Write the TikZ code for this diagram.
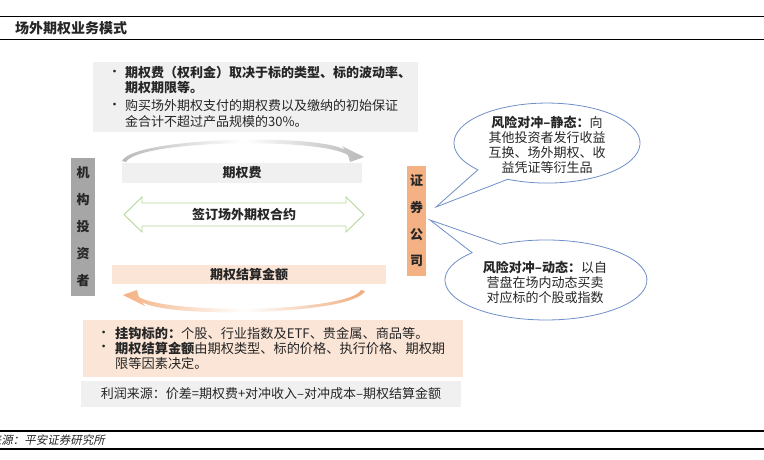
\documentclass[tikz,border=0pt]{standalone}
\usepackage{fontspec}
\setmainfont{Noto Sans CJK SC}
\newfontfamily\cjkit[FakeSlant=0.2]{Noto Sans CJK SC}
\definecolor{gbox}{HTML}{F0F0F0}
\definecolor{lgray}{HTML}{A6A6A6}
\definecolor{peach}{HTML}{FBE5D6}
\definecolor{orng}{HTML}{F4B183}
\definecolor{grn}{HTML}{B4D89A}
\definecolor{blu}{HTML}{6F8FC9}
\definecolor{ink}{HTML}{262626}
\begin{document}
\begin{tikzpicture}[x=1pt,y=-1pt,
  every node/.style={inner sep=0pt, text=ink},
  body/.style={font=\fontsize{13}{15}\selectfont},
  lline/.style={body, anchor=west},
  pline/.style={anchor=west, font=\fontsize{13.2}{14}\selectfont},
  boxnode/.style={body, minimum width=#1, anchor=center},
  vbox/.style={font=\bfseries\fontsize{13}{27}\selectfont, align=center},
  callout/.style={draw=blu, fill=white, line width=0.8pt},
  rule/.style={draw=black, line width=1.2pt}
]
\useasboundingbox (0,0) rectangle (764,459);
\clip (0,0) rectangle (764,459);

% header / footer rules
\draw[rule] (0,16.5) -- (764,16.5);
\draw[rule, line width=1.5pt] (0,39.5) -- (764,39.5);
\node[anchor=west, font=\bfseries\fontsize{14}{16}\selectfont] (title) at (15,28) {场外期权业务模式};
\draw[rule, line width=1.5pt] (0,431) -- (764,431);
\draw[rule] (0,449) -- (764,449);
\node[anchor=east, font=\cjkit\fontsize{11.5}{13}\selectfont] (src) at (105,440.5) {资料来源：平安证券研究所};

% top grey info box
\fill[gbox] (93,62) rectangle (418,132);
\node[lline] (b1) at (108,73) {•};
\node[lline] (t1) at (125,73) {\textbf{期权费（权利金）取决于标的类型、标的波动率、}};
\node[lline] (t2) at (125,88) {\textbf{期权期限等。}};
\node[lline] (b2) at (108,106) {•};
\node[lline] (t3) at (125,106) {购买场外期权支付的期权费以及缴纳的初始保证};
\node[lline] (t4) at (125,122) {金合计不超过产品规模的30\%。};

% grey curved arrow (top)
\shade[left color=gray!55, right color=gray!55, middle color=white]
  (122,161) .. controls (134,137) and (318,133) .. (345,150)
  -- (342,146) -- (364,157) -- (350,162) -- (348,155)
  .. controls (318,137) and (138,140) .. (126,162) -- cycle;

% left / right vertical boxes
\node[vbox, fill=lgray, minimum width=24pt, minimum height=138pt] (inv) at (83,227) {机\\构\\投\\资\\者};
\node[vbox, fill=orng, minimum width=19.5pt, minimum height=110pt, font=\bfseries\fontsize{13}{26.7}\selectfont] (sec) at (416.7,221) {证\\券\\公\\司};

% premium box
\node[boxnode=240pt, fill=gbox, minimum height=20pt] (fee) at (242,173) {\textbf{期权费}};

% double arrow
\draw[grn, line width=0.9pt, fill=white]
  (124,214.5) -- (142,197) -- (142,203) -- (346,203) -- (346,197) -- (364,214.5)
  -- (346,232) -- (346,226) -- (142,226) -- (142,232) -- cycle;
\node[body] (sign) at (244,215) {\textbf{签订场外期权合约}};

% settlement box
\node[boxnode=274pt, fill=peach, minimum height=19pt] (settle) at (249,274.5) {\textbf{期权结算金额}};

% orange curved arrow (bottom)
\shade[left color=orng, right color=orng!90!brown, middle color=white]
  (365,291) .. controls (353,315) and (169,319) .. (142,302)
  -- (145,306) -- (123,295) -- (137,290) -- (139,297)
  .. controls (169,315) and (349,312) .. (361,290) -- cycle;

% bottom peach info box
\fill[peach] (83,320) rectangle (463,377);
\node[pline] (b3) at (97,334) {•};
\node[pline] (t5) at (115,334) {\textbf{挂钩标的：}个股、行业指数及ETF、贵金属、商品等。};
\node[pline] (b4) at (97,348.5) {•};
\node[pline] (t6) at (115,348.5) {\textbf{期权结算金额}由期权类型、标的价格、执行价格、期权期};
\node[pline] (t7) at (115,363) {限等因素决定。};

% profit box
\node[boxnode=380pt, fill=gbox, minimum height=26pt] (profit) at (271,394) {利润来源：价差=期权费+对冲收入–对冲成本–期权结算金额};

% callout top (static hedge)
\draw[callout] (507.7,179.3) arc[start angle=245, end angle=582, x radius=93pt, y radius=40pt]
  -- (436,207) -- cycle;
\node[body, align=center] (stat) at (547,144.5) {\textbf{风险对冲–静态：}向\\其他投资者发行收益\\互换、场外期权、收\\益凭证等衍生品};

% callout bottom (dynamic hedge)
\draw[callout] (472.1,252.7) arc[start angle=137, end angle=477, x radius=101pt, y radius=40pt]
  -- (430,220) -- cycle;
\node[body, align=center] (dyn) at (545,282) {\textbf{风险对冲–动态：}以自\\营盘在场内动态买卖\\对应标的个股或指数};
\end{tikzpicture}
\end{document}
